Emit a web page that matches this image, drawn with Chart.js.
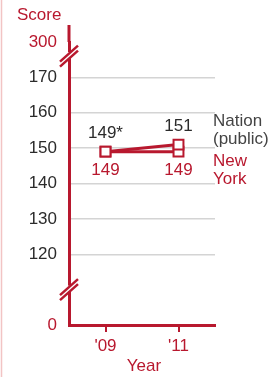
<!DOCTYPE html>
<html>
<head>
<meta charset="utf-8">
<script src="https://cdn.jsdelivr.net/npm/chart.js@4"></script>
<style>
  html, body { margin: 0; padding: 0; background: #fff; }
  #wrap { width: 271px; height: 377px; position: relative; }
</style>
</head>
<body>
<div id="wrap"><canvas id="grafik"></canvas></div>
<script>
// === DATA ===
const years = [2009, 2011];
const yearLabels = ["'09", "'11"];
const nationScores = [149, 151];
const nationLabels = ['149*', '151'];
const nyScores = [149, 149];
const nyLabels = ['149', '149'];
// sumbu patah: 100 mewakili 0, 180 mewakili 300
const yTickValues = [100, 120, 130, 140, 150, 160, 170, 180];
const yTickLabels = ['0', '120', '130', '140', '150', '160', '170', '300'];
const breakValues = [176, 110];

const RED = '#b8182e';
const DARK = '#2b2b2b';
const FONT = '"Liberation Sans", Arial, sans-serif';

// === PLUGIN: teks & tanda patah sumbu ===
const annotasi = {
  id: 'annotasi',
  afterDraw(chart) {
    const { ctx, chartArea } = chart;
    const xs = chart.scales.x, ys = chart.scales.y;
    ctx.save();

    // garis pinggir kiri
    ctx.strokeStyle = '#f2c4c4';
    ctx.lineWidth = 1.5;
    ctx.beginPath(); ctx.moveTo(1.5, 0); ctx.lineTo(1.5, 377); ctx.stroke();

    // sumbu y diperpanjang ke atas
    ctx.strokeStyle = RED;
    ctx.lineWidth = 3;
    ctx.beginPath(); ctx.moveTo(chartArea.left, 25); ctx.lineTo(chartArea.left, chartArea.top); ctx.stroke();

    // tanda patah sumbu
    breakValues.forEach(v => {
      const x = chartArea.left, y = ys.getPixelForValue(v);
      ctx.fillStyle = '#fff';
      ctx.fillRect(x - 3, y - 4, 6, 6);
      ctx.strokeStyle = RED;
      ctx.lineWidth = 2.5;
      [-2.5, 2.5].forEach(o => {
        ctx.beginPath();
        ctx.moveTo(x - 9, y + 8 + o);
        ctx.lineTo(x + 9, y - 8 + o);
        ctx.stroke();
      });
    });

    ctx.font = '17px ' + FONT;
    ctx.textAlign = 'center';
    ctx.textBaseline = 'middle';

    // label nilai
    years.forEach((yr, i) => {
      const x = xs.getPixelForValue(yr);
      ctx.fillStyle = DARK;
      ctx.fillText(nationLabels[i], x, ys.getPixelForValue(nationScores[i]) - 18);
      ctx.fillStyle = RED;
      ctx.fillText(nyLabels[i], x, ys.getPixelForValue(nyScores[i]) + 19);
    });

    // label seri
    ctx.textAlign = 'left';
    ctx.fillStyle = '#444';
    ctx.fillText('Nation', 213, 121);
    ctx.fillText('(public)', 213, 139);
    ctx.fillStyle = RED;
    ctx.fillText('New', 213, 161);
    ctx.fillText('York', 213, 179);

    // judul sumbu
    ctx.textAlign = 'left';
    ctx.fillText('Score', 17, 15);
    ctx.textAlign = 'center';
    ctx.fillText('Year', 144, 366);

    ctx.restore();
  }
};

const point = {
  pointStyle: 'rect', pointRadius: 7, pointHoverRadius: 7,
  pointBackgroundColor: '#fff', pointBorderColor: RED, pointBorderWidth: 2,
  borderColor: RED, borderWidth: 3, tension: 0, clip: false
};

new Chart(document.getElementById('grafik'), {
  type: 'line',
  data: {
    datasets: [
      { label: 'Nation (public)', data: years.map((x, i) => ({ x, y: nationScores[i] })), ...point },
      { label: 'New York', data: years.map((x, i) => ({ x, y: nyScores[i] })), ...point }
    ]
  },
  options: {
    responsive: true,
    maintainAspectRatio: false,
    animation: false,
    layout: { padding: { left: 0, right: 56, top: 42, bottom: 0 } },
    plugins: { legend: { display: false }, tooltip: { enabled: false } },
    scales: {
      x: {
        type: 'linear', min: 2008, max: 2012,
        afterBuildTicks: s => { s.ticks = years.map(v => ({ value: v })); },
        afterFit: s => { s.height = 52; },
        border: { color: RED, width: 3 },
        grid: { drawOnChartArea: false, color: RED, lineWidth: 2, tickLength: 7 },
        ticks: {
          color: RED, font: { size: 17, family: FONT }, padding: 4,
          callback: v => yearLabels[years.indexOf(v)]
        }
      },
      y: {
        type: 'linear', min: 100, max: 180,
        afterBuildTicks: s => { s.ticks = yTickValues.map(v => ({ value: v })); },
        afterFit: s => { s.width = 69; },
        border: { color: RED, width: 3 },
        grid: {
          drawTicks: false,
          color: c => (c.tick && c.tick.value >= 120 && c.tick.value <= 170) ? '#d4d4d4' : 'rgba(0,0,0,0)',
          lineWidth: 1.5
        },
        ticks: {
          padding: 12,
          font: { size: 17, family: FONT },
          color: c => (c.tick.value === 100 || c.tick.value === 180) ? RED : DARK,
          callback: v => yTickLabels[yTickValues.indexOf(v)]
        }
      }
    }
  },
  plugins: [annotasi]
});
</script>
</body>
</html>
